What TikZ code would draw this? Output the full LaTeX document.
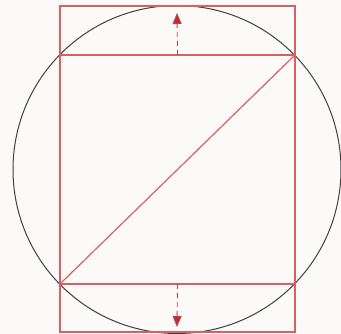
\documentclass[tikz,border=0pt]{standalone}
\usepackage{tikz}
\usetikzlibrary{arrows.meta, calc}

\definecolor{lineRed}{RGB}{216,96,100}
\definecolor{tipRed}{RGB}{200,40,50}
\definecolor{paper}{RGB}{252,250,248}

\begin{document}
\begin{tikzpicture}[
  x=1pt, y=-1pt,
  sq/.style={draw=lineRed, line width=1.2pt},
  circ/.style={draw=black!75, line width=1pt},
  push/.style={draw=lineRed!80!black, line width=0.9pt, dash pattern=on 5pt off 4pt,
    -{Triangle[length=11pt, width=9pt, fill=tipRed]}}
]
% fond et cadre
\fill[paper] (0,0) rectangle (341,334);
\useasboundingbox (0,0) rectangle (341,334);

% carre inscrit
\coordinate (c) at (177,169.5);
\coordinate (tl) at (60,55);
\coordinate (tr) at (295,55);
\coordinate (bl) at (60,284);
\coordinate (br) at (295,284);

% rectangle tangent au cercle
\coordinate (otl) at (60,6);
\coordinate (obr) at (295,332);

% cercle
\draw[circ] (c) circle[radius=164];

% rectangles
\draw[sq] (otl) rectangle (obr);
\draw[sq] (tl) -- (tr);
\draw[sq] (bl) -- (br);
\draw[sq] (bl) -- (tr);

% fleches
\coordinate (topmid) at ($(tl)!0.5!(tr)$);
\coordinate (toptip) at (177,13);
\coordinate (botmid) at ($(bl)!0.5!(br)$);
\coordinate (bottip) at (177,327);
\draw[push] (topmid) -- (toptip);
\draw[push] (botmid) -- (bottip);

\end{tikzpicture}
\end{document}
